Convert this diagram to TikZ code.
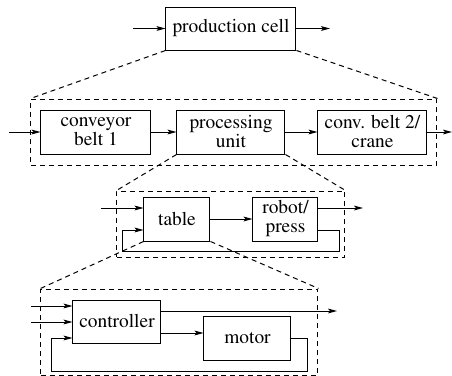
\documentclass[tikz,border=0pt]{standalone}
\usepackage[T1]{fontenc}
\usepackage{times}
\usetikzlibrary{arrows.meta}
\begin{document}
\begin{tikzpicture}[x=0.5pt,y=-0.5pt,line width=0.5pt,
    block/.style={draw,inner sep=0pt,align=center,font=\rmfamily\fontsize{9.7}{9.5}\selectfont},
    zoombox/.style={draw,dashed,dash pattern=on 2.5pt off 2pt,inner sep=0pt},
    zoomline/.style={dashed,dash pattern=on 2.5pt off 2pt},
    sig/.style={-{Stealth[length=4.5pt,width=2.4pt,inset=1pt]}}]
                % \helpgrid{3}{3}
                \useasboundingbox (0,0) rectangle (452,376);
                % level 1
                \node (cell) at (231,28.5) [block,minimum width=65pt,minimum height=21.5pt] {production cell};
                \coordinate (cellin) at (133,28.5);
                \coordinate (cellout) at (330,28.5);
                \draw [sig] (cellin) -- (cell.west);
                \draw [sig] (cell.east) -- (cellout);
                % level 2
                \node (lvltwo) at (234,132) [zoombox,minimum width=203pt,minimum height=33pt] {};
                \node (belta) at (96,132) [block,minimum width=55pt,minimum height=22pt] {conveyor\\belt 1};
                \node (proc) at (231,132) [block,minimum width=54pt,minimum height=22pt] {processing\\unit};
                \node (beltb) at (372.5,132) [block,minimum width=54.5pt,minimum height=22pt] {conv. belt 2/\\crane};
                \coordinate (beltin) at (9,132);
                \coordinate (beltout) at (452,132);
                \draw [sig] (beltin) -- (belta.west);
                \draw [sig] (belta.east) -- (proc.west);
                \draw [sig] (proc.east) -- (beltb.west);
                \draw [sig] (beltb.east) -- (beltout);
                \draw [zoomline] (cell.south west) -- (lvltwo.north west);
                \draw [zoomline] (cell.south east) -- (lvltwo.north east);
                % level 3
                \node (lvlthree) at (231,224) [zoombox,minimum width=114pt,minimum height=33pt] {};
                \node (table) at (177,219) [block,minimum width=33pt,minimum height=22pt] {table};
                \node (robot) at (285.5,219) [block,minimum width=32.5pt,minimum height=22pt] {robot/\\press};
                \coordinate (tablein) at (101,208);
                \coordinate (robotout) at (363,208);
                \coordinate (loopa) at (340,251);
                \coordinate (loopb) at (123,230);
                \draw [sig] (tablein) -- (tablein -| table.west);
                \draw [sig] (table.east) -- (robot.west);
                \draw [sig] (robot.east |- robotout) -- (robotout);
                \draw [sig] (robot.east |- loopb) -| (loopa) -| (loopb) -- (table.west |- loopb);
                \draw [zoomline] (proc.south west) -- (lvlthree.north west);
                \draw [zoomline] (proc.south east) -- (lvlthree.north east);
                % level 4
                \node (lvlfour) at (179.5,332) [zoombox,minimum width=138.5pt,minimum height=43pt] {};
                \node (ctrl) at (117,321.5) [block,minimum width=44pt,minimum height=21.5pt] {controller};
                \node (motor) at (247.5,338) [block,minimum width=43.5pt,minimum height=22pt] {motor};
                \coordinate (ctrlina) at (31,306);
                \coordinate (ctrlinb) at (31,322);
                \coordinate (ctrlout) at (337,311);
                \coordinate (ctrlmot) at (161,333);
                \coordinate (loopc) at (308,371);
                \coordinate (loopd) at (52,338);
                \draw [sig] (ctrlina) -- (ctrlina -| ctrl.west);
                \draw [sig] (ctrlinb) -- (ctrlinb -| ctrl.west);
                \draw [sig] (ctrl.east |- ctrlout) -- (ctrlout);
                \draw [sig] (ctrl.east |- ctrlmot) -- (motor.west |- ctrlmot);
                \draw [sig] (motor.east) -| (loopc) -| (loopd) -- (ctrl.west |- loopd);
                \draw [zoomline] (table.south west) -- (lvlfour.north west);
                \draw [zoomline] (table.south east) -- (lvlfour.north east);
\end{tikzpicture}
\end{document}
